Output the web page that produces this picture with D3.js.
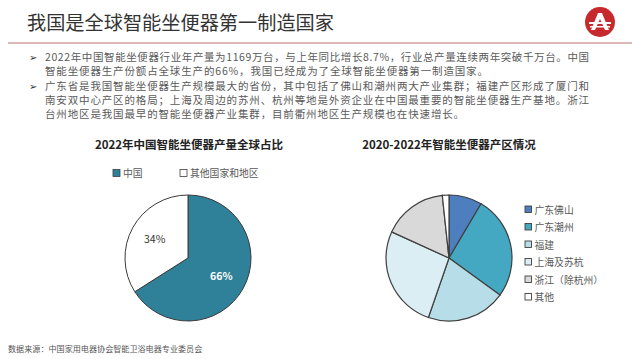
<!DOCTYPE html>
<html><head><meta charset="utf-8">
<script src="https://cdn.jsdelivr.net/npm/d3@7"></script>
<style>
html,body{margin:0;padding:0;background:#fff;}
svg{display:block;font-family:"Noto Sans CJK SC","Noto Sans",sans-serif;}
</style></head>
<body>
<svg id="c" width="640" height="359"></svg>
<script>
const pageTitle = "我国是全球智能坐便器第一制造国家";
const bodyLines = [
  "2022年中国智能坐便器行业年产量为1169万台，与上年同比增长8.7%，行业总产量连续两年突破千万台。中国",
  "智能坐便器生产份额占全球生产的66%，我国已经成为了全球智能坐便器第一制造国家。",
  "广东省是我国智能坐便器生产规模最大的省份，其中包括了佛山和潮州两大产业集群；福建产区形成了厦门和",
  "南安双中心产区的格局；上海及周边的苏州、杭州等地是外资企业在中国最重要的智能坐便器生产基地。浙江",
  "台州地区是我国最早的智能坐便器产业集群，目前衢州地区生产规模也在快速增长。"
];
const sourceText = "数据来源：中国家用电器协会智能卫浴电器专业委员会";

const leftTitle = "2022年中国智能坐便器产量全球占比";
const leftCategories = ["中国", "其他国家和地区"];
const leftValues = [66, 34];
const leftLabels = ["66%", "34%"];

const rightTitle = "2020-2022年智能坐便器产区情况";
const rightCategories = ["广东佛山", "广东潮州", "福建", "上海及苏杭", "浙江（除杭州）", "其他"];
const rightValues = [8.5, 26.5, 20.3, 26.5, 16.5, 1.7];

const leftColors = ["#2f8199", "#ffffff"];
const rightColors = ["#4d7fbf", "#45a8c2", "#b6dde8", "#dbeef4", "#d9d9d9", "#ffffff"];

const svg = d3.select("#c");

// Header
svg.append("text").attr("x", 27).attr("y", 30).attr("font-size", 19.2)
  .attr("fill", "#333").text(pageTitle);
svg.append("line").attr("x1", 8).attr("x2", 632).attr("y1", 43).attr("y2", 43)
  .attr("stroke", "#dcb7b9").attr("stroke-width", 2);

// Logo
const logo = svg.append("g").attr("transform", "translate(600,22)");
logo.append("circle").attr("r", 15).attr("fill", "#c62a2f");
logo.append("path").attr("d", "M-9,8 L-2,-9 L2,-9 L9,8 L5,8 L0,-3 L-5,8 Z").attr("fill", "#fff");
logo.append("rect").attr("x", -11).attr("y", 0).attr("width", 22).attr("height", 2).attr("fill", "#fff");
logo.append("rect").attr("x", -10).attr("y", 4).attr("width", 20).attr("height", 1.5).attr("fill", "#fff");

// Body text
const lineY = [61, 75, 89.5, 103.5, 117.5];
const justified = [true, false, true, true, false];
const body = svg.append("g").attr("font-size", 10.5).attr("fill", "#5a5a5a");
bodyLines.forEach((t, i) => {
  const tx = body.append("text").attr("x", 45).attr("y", lineY[i]).text(t);
  if (justified[i]) tx.attr("textLength", 544).attr("lengthAdjust", "spacing");
  else tx.attr("letter-spacing", 0.85);
});
[0, 2].forEach(i => {
  svg.append("text").attr("x", 29).attr("y", lineY[i]).attr("font-size", 10)
    .attr("fill", "#333").attr("font-family", "DejaVu Sans").text("➢");
});

// Footer
svg.append("text").attr("x", 8).attr("y", 352).attr("font-size", 8.1)
  .attr("fill", "#555").text(sourceText);

// Pie generators
const pie = d3.pie().sort(null).value(d => d);
const R = 63;
const arc = d3.arc().innerRadius(0).outerRadius(R);

// Left chart
svg.append("text").attr("x", 189).attr("y", 149).attr("text-anchor", "middle")
  .attr("font-size", 11.5).attr("font-weight", "bold").attr("fill", "#222").text(leftTitle);

const legX = [113, 180];
leftCategories.forEach((c, i) => {
  svg.append("rect").attr("x", legX[i]).attr("y", 169.5).attr("width", 7).attr("height", 7)
    .attr("fill", leftColors[i]).attr("stroke", "#404040").attr("stroke-width", 0.8);
  svg.append("text").attr("x", legX[i] + 10).attr("y", 177).attr("font-size", 9.8)
    .attr("fill", "#595959").text(c);
});

const lg = svg.append("g").attr("transform", "translate(188,258)");
const la = pie(leftValues);
lg.selectAll("path").data(la).join("path").attr("d", arc)
  .attr("fill", (d, i) => leftColors[i]).attr("stroke", "#3a3a3a").attr("stroke-width", 1);
const labelArc = d3.arc().innerRadius(38).outerRadius(38);
lg.selectAll("text.lbl").data(la).join("text").attr("class", "lbl")
  .attr("transform", d => `translate(${labelArc.centroid(d)})`)
  .attr("text-anchor", "middle").attr("dy", "0.35em")
  .attr("font-size", 10.5).attr("font-weight", (d, i) => i === 0 ? "bold" : "normal")
  .attr("fill", (d, i) => i === 0 ? "#fff" : "#333")
  .text((d, i) => leftLabels[i]);

// Right chart
svg.append("text").attr("x", 449).attr("y", 149).attr("text-anchor", "middle")
  .attr("font-size", 11.5).attr("font-weight", "bold").attr("fill", "#222").text(rightTitle);

const rg = svg.append("g").attr("transform", "translate(449,258)");
rg.selectAll("path").data(pie(rightValues)).join("path").attr("d", arc)
  .attr("fill", (d, i) => rightColors[i]).attr("stroke", "#3f3f3f").attr("stroke-width", 1.2);

const legY = d3.scalePoint().domain(rightCategories).range([210, 297.5]);
rightCategories.forEach((c, i) => {
  svg.append("rect").attr("x", 525).attr("y", legY(c) - 4).attr("width", 6.5).attr("height", 6.5)
    .attr("fill", rightColors[i]).attr("stroke", "#404040").attr("stroke-width", 0.9);
  svg.append("text").attr("x", 534.5).attr("y", legY(c) + 3.5).attr("font-size", 9.8)
    .attr("fill", "#595959").text(c);
});
</script>
</body></html>
